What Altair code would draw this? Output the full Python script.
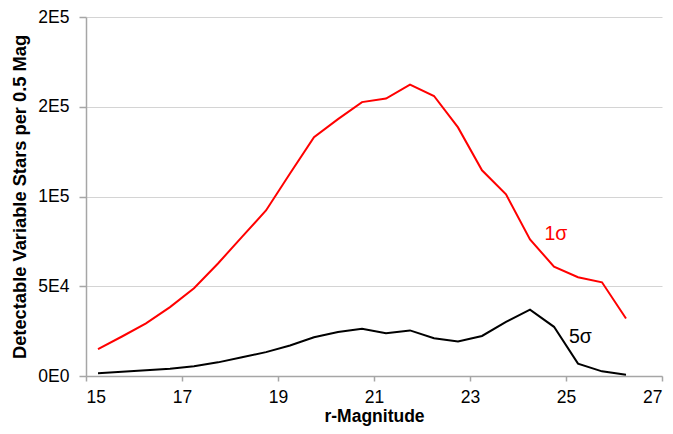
import altair as alt
import pandas as pd

# r-magnitude bin centres
mag = [15.25, 15.75, 16.25, 16.75, 17.25, 17.75, 18.25, 18.75, 19.25, 19.75,
       20.25, 20.75, 21.25, 21.75, 22.25, 22.75, 23.25, 23.75, 24.25, 24.75,
       25.25, 25.75, 26.25]
sigma1 = [15000, 22000, 29300, 38400, 48900, 62700, 77500, 92200, 112800, 133000,
          143100, 152600, 154600, 162300, 156000, 138500, 114600, 101200, 76100, 60900,
          55000, 52200, 32000]
sigma5 = [1500, 2300, 3200, 4000, 5400, 7600, 10400, 13300, 17000, 21600,
          24500, 26300, 23800, 25400, 21000, 19200, 22300, 30200, 37000, 27400,
          6900, 2600, 700]

series_names = ["1σ", "5σ"]
series_colors = ["#ff0000", "#000000"]

label_text = ["1σ", "5σ"]
label_x = [24.79, 25.30]
label_y = [79000, 21750]

x_ticks = [15, 17, 19, 21, 23, 25, 27]
y_ticks = [0, 50000, 100000, 150000, 200000]
y_tick_labels = ["0E0", "5E4", "1E5", "2E5", "2E5"]

rows = []
for m, a, b in zip(mag, sigma1, sigma5):
    rows.append({"mag": m, "value": a, "series": series_names[0]})
    rows.append({"mag": m, "value": b, "series": series_names[1]})
df = pd.DataFrame(rows)
lab = pd.DataFrame({"text": label_text, "mag": label_x, "value": label_y,
                    "series": series_names})

label_expr = " : ".join(
    f"datum.value == {v} ? '{t}'" for v, t in zip(y_ticks, y_tick_labels)
) + " : ''"

FONT = "Liberation Sans"

xscale = alt.Scale(domain=[15, 27], nice=False, zero=False)
yscale = alt.Scale(domain=[0, 200000], nice=False)
cscale = alt.Scale(domain=series_names, range=series_colors)

lines = alt.Chart(df).mark_line(strokeWidth=2).encode(
    x=alt.X("mag:Q", scale=xscale, title="r-Magnitude",
            axis=alt.Axis(values=x_ticks, grid=False, tickSize=5, labelPadding=7,
                          titlePadding=2, format="d", titleFontSize=17.5)),
    y=alt.Y("value:Q", scale=yscale, title="Detectable Variable Stars per 0.5 Mag",
            axis=alt.Axis(values=y_ticks, labelExpr=label_expr, grid=True, tickSize=7,
                          labelPadding=10, titlePadding=8, titleFontSize=18.3)),
    color=alt.Color("series:N", scale=cscale, legend=None),
    detail="series:N",
)

texts = alt.Chart(lab).mark_text(fontSize=19.5, font=FONT, align="center",
                                 baseline="middle").encode(
    x=alt.X("mag:Q", scale=xscale),
    y=alt.Y("value:Q", scale=yscale),
    text="text:N",
    color=alt.Color("series:N", scale=cscale, legend=None),
)

chart = alt.layer(lines, texts).properties(
    width=576, height=359,
    autosize=alt.AutoSizeParams(type="none"),
    padding={"left": 78, "top": 9, "right": 3, "bottom": 50},
).configure_view(stroke=None).configure_axis(
    labelFont=FONT, titleFont=FONT, labelFontSize=17.5,
    titleFontWeight="bold", labelColor="#000000", titleColor="#000000",
    domainColor="#a6a6a6", domainWidth=1.5, tickColor="#a6a6a6", tickWidth=1.5,
    gridColor="#d4d4d4", gridWidth=1,
)

chart.save("out.html", embed_options={"renderer": "svg", "actions": False})
